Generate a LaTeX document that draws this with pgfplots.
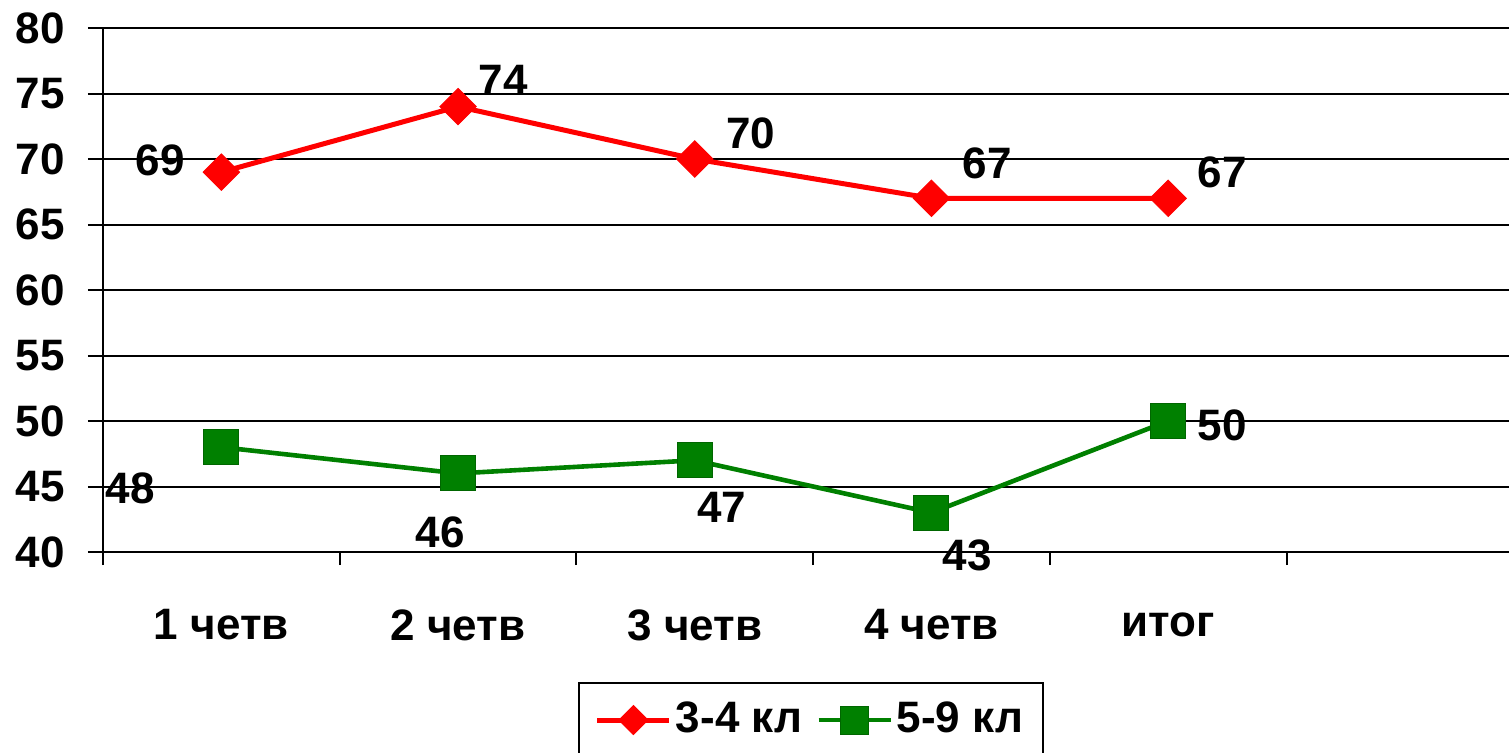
\documentclass[border=0pt]{standalone}
\usepackage{fontspec}
\setmainfont{Liberation Sans}
\usepackage{pgfplots}
\usepackage{pgfplotstable}
\pgfplotsset{compat=1.18}

\definecolor{rd}{RGB}{255,0,0}
\definecolor{gr}{RGB}{0,128,0}

% x y and label offsets (pt)
\pgfplotstableread{
x y dx dy
0 69 -30.5 6
1 74 22.5 13
2 70 28 13
3 67 28 17.5
4 67 27 13
}\juniors
\pgfplotstableread{
x y dx dy
0 48 -45.5 -20.5
1 46 -9 -29.5
2 47 13.5 -23.5
3 43 18 -21.5
4 50 27 -2
}\seniors

\begin{document}
\bfseries\fontsize{22}{26}\selectfont
\begin{tikzpicture}
\clip (-51.5pt,-100pt) rectangle (703pt,276pt);
\begin{axis}[
    scale only axis,
    width=703pt, height=262pt,
    xmin=-0.5, xmax=5.44, ymin=40, ymax=80,
    axis lines*=left,
    axis line style={line width=1pt},
    ytick={40,45,...,80},
    ymajorgrids,
    grid style={black, line width=1pt},
    xtick={0,...,4},
    xticklabels={1 четв, 2 четв, 3 четв, 4 четв, итог},
    major x tick style={draw=none},
    minor xtick={-0.5,0.5,...,4.5},
    tick align=outside,
    major tick length=7.5pt, minor tick length=6.5pt,
    tick style={black, line width=1pt},
    xticklabel style={anchor=center, yshift=-29pt},
    yticklabel style={xshift=-4pt},
    /pgf/number format/assume math mode=true,
    clip=false,
    legend style={at={(0.5036,-0.3206)}, anchor=center, legend columns=2,
        draw=black, line width=1pt, inner xsep=8pt, inner ysep=7pt,
        /tikz/every even column/.append style={column sep=5pt}},
    legend image code/.code={\draw[mark repeat=2, mark phase=2,
        every mark/.append style={scale=0.8}]
        plot coordinates {(0pt,0pt) (18pt,0pt) (36pt,0pt)};},
    every node near coord/.append style={anchor=center, text=black},
]
\addplot[rd, line width=2.5pt, mark=square*, mark size=6.4pt,
    mark options={rotate=45, solid, fill=rd, line width=0.5pt},
    nodes near coords,
    visualization depends on={\thisrow{dx}\as\dx},
    visualization depends on={\thisrow{dy}\as\dy},
    every node near coord/.append style={xshift=\dx pt, yshift=\dy pt}]
    table[x=x, y=y] {\juniors};
\addplot[gr, line width=2.3pt, mark=square*, mark size=8.75pt,
    mark options={solid, fill=gr, draw=gr!80!black, line width=0.5pt, rounded corners=1pt},
    nodes near coords,
    visualization depends on={\thisrow{dx}\as\dx},
    visualization depends on={\thisrow{dy}\as\dy},
    every node near coord/.append style={xshift=\dx pt, yshift=\dy pt}]
    table[x=x, y=y] {\seniors};
\legend{3-4 кл, 5-9 кл}
\end{axis}
\end{tikzpicture}
\end{document}
